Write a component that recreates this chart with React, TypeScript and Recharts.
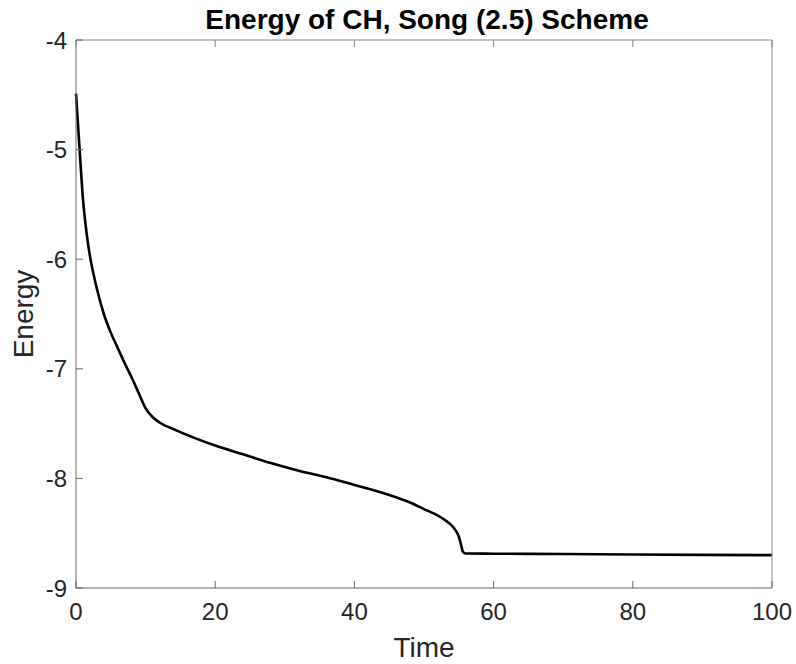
import React from 'react';
import { LineChart, Line, XAxis, YAxis } from 'recharts';

// energy curve
const timeValues = [
  0, 0.5, 1, 1.5, 2, 2.5, 3, 4, 5, 6, 7, 8, 9, 10, 11, 12, 14, 17, 20, 24, 28, 32, 36, 40,
  44, 48, 50, 52, 53, 54, 54.5, 55, 55.3, 55.6, 56, 60, 70, 80, 90, 100,
];
const energyValues = [
  -4.49, -4.98, -5.45, -5.75, -5.97, -6.13, -6.27, -6.5, -6.67, -6.81, -6.95, -7.08, -7.22,
  -7.36, -7.44, -7.49, -7.55, -7.63, -7.7, -7.78, -7.86, -7.93, -7.99, -8.06, -8.13, -8.22,
  -8.28, -8.34, -8.38, -8.43, -8.47, -8.53, -8.6, -8.67, -8.685, -8.687, -8.69, -8.695,
  -8.698, -8.7,
];
const xTicks = [0, 20, 40, 60, 80, 100];
const yTicks = [-9, -8, -7, -6, -5, -4];

const data = timeValues.map((t, i) => ({ time: t, energy: energyValues[i] }));

const FONT = '"Liberation Sans", Arial, Helvetica, sans-serif';
const TEXT = '#262626';
const TICK_LEN = 7;
const LEFT_GAP = 9;
const BOTTOM_GAP = 15;

// MATLAB style: tick marks point into the plot box
const LeftTick = (props: any) => {
  const { x, y, payload } = props;
  const ax = x + LEFT_GAP;
  return (
    <g>
      <line x1={ax} y1={y} x2={ax + TICK_LEN} y2={y} stroke="#666" />
      <text x={x} y={y} dy="0.355em" textAnchor="end" fill={TEXT} fontSize={24} fontFamily={FONT}>
        {payload.value}
      </text>
    </g>
  );
};

const BottomTick = (props: any) => {
  const { x, y, payload } = props;
  const ay = y - BOTTOM_GAP;
  return (
    <g>
      <line x1={x} y1={ay} x2={x} y2={ay - TICK_LEN} stroke="#666" />
      <text x={x} y={y} dy="0.71em" textAnchor="middle" fill={TEXT} fontSize={24} fontFamily={FONT}>
        {payload.value}
      </text>
    </g>
  );
};

const TopTick = (props: any) => {
  const { x, y } = props;
  return <line x1={x} y1={y} x2={x} y2={y + TICK_LEN} stroke="#888" />;
};

const RightTick = (props: any) => {
  const { x, y } = props;
  return <line x1={x} y1={y} x2={x - TICK_LEN} y2={y} stroke="#888" />;
};

const App: React.FC = () => {
  return (
    <div style={{ position: 'absolute', left: 0, top: 0, width: 796, height: 664, background: '#fff', fontFamily: FONT }}>
      <div
        style={{
          position: 'absolute',
          left: 76,
          top: 6,
          width: 702,
          textAlign: 'center',
          fontSize: 28,
          lineHeight: '28px',
          fontWeight: 'bold',
          color: '#000',
        }}
      >
        Energy of CH, Song (2.5) Scheme
      </div>
      <LineChart width={796} height={664} data={data} margin={{ top: 39, right: 23, bottom: 0, left: 0 }}>
        <XAxis
          dataKey="time"
          type="number"
          domain={[0, 100]}
          ticks={xTicks}
          height={76}
          stroke="#666"
          tickLine={false}
          tickSize={0}
          tickMargin={BOTTOM_GAP}
          tick={BottomTick}
          label={{ value: 'Time', position: 'insideBottom', offset: 7, fill: TEXT, fontSize: 28, fontFamily: FONT }}
        />
        <XAxis
          xAxisId="top"
          orientation="top"
          dataKey="time"
          type="number"
          domain={[0, 100]}
          ticks={xTicks}
          height={1}
          stroke="#888"
          tickLine={false}
          tickSize={0}
          tickMargin={0}
          tick={TopTick}
        />
        <YAxis
          type="number"
          domain={[-9, -4]}
          ticks={yTicks}
          width={76}
          allowDataOverflow
          stroke="#666"
          tickLine={false}
          tickSize={0}
          tickMargin={LEFT_GAP}
          tick={LeftTick}
          label={{
            value: 'Energy',
            angle: -90,
            position: 'insideLeft',
            offset: 23,
            fill: TEXT,
            fontSize: 28,
            fontFamily: FONT,
            style: { textAnchor: 'middle' },
          }}
        />
        <YAxis
          yAxisId="right"
          orientation="right"
          type="number"
          domain={[-9, -4]}
          ticks={yTicks}
          width={1}
          stroke="#888"
          tickLine={false}
          tickSize={0}
          tickMargin={0}
          tick={RightTick}
        />
        <Line
          type="monotone"
          dataKey="energy"
          stroke="#000"
          strokeWidth={2.6}
          dot={false}
          isAnimationActive={false}
        />
      </LineChart>
    </div>
  );
};

export default App;
